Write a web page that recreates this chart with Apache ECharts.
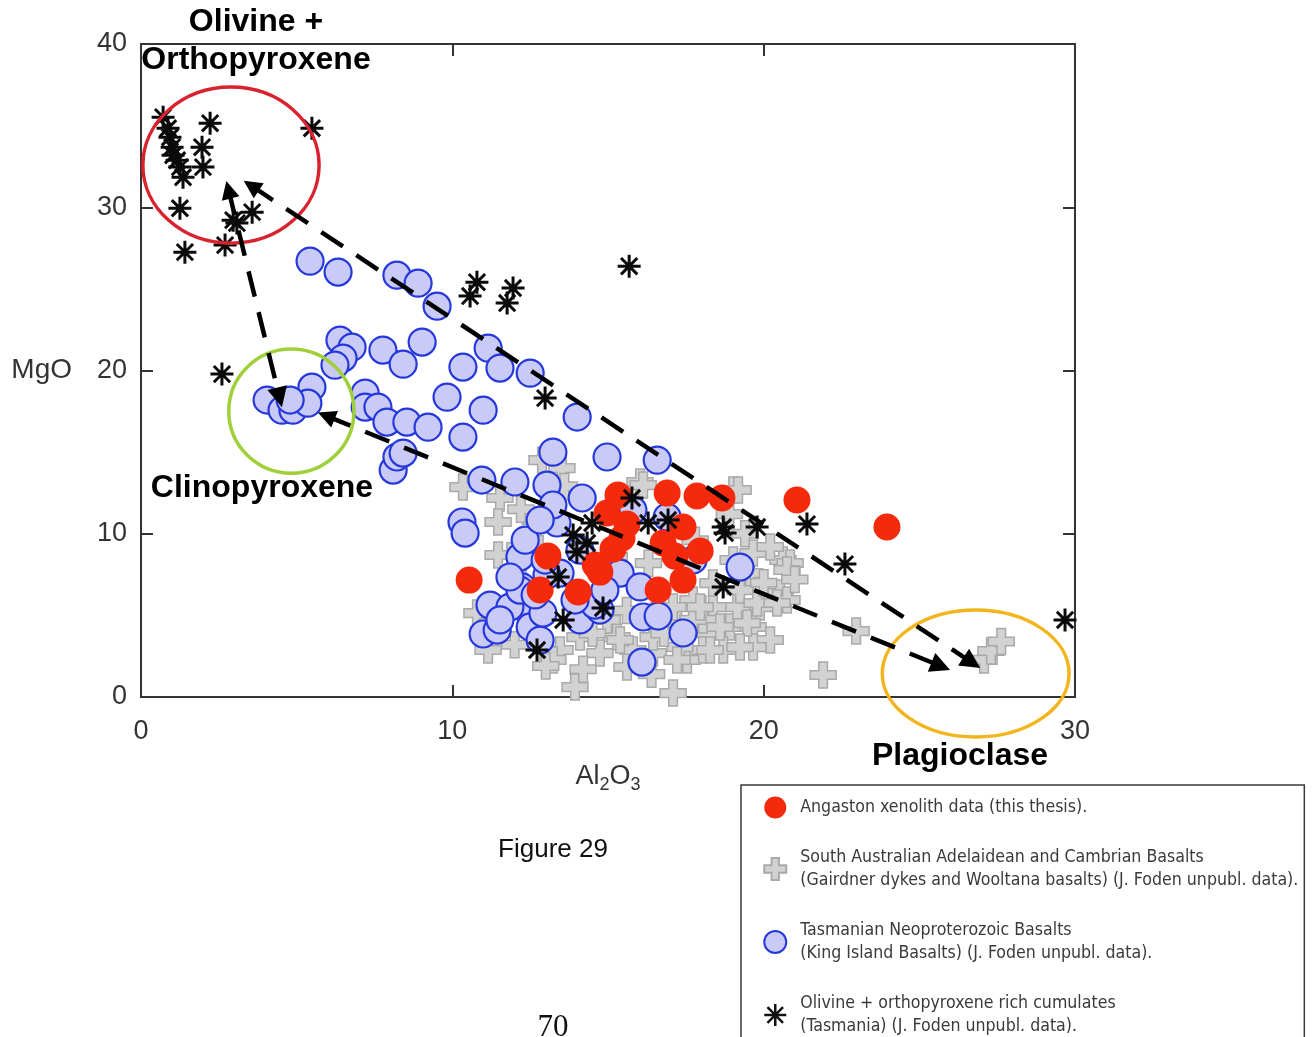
<!DOCTYPE html>
<html>
<head>
<meta charset="utf-8">
<script src="https://cdn.jsdelivr.net/npm/echarts/dist/echarts.min.js"></script>
<style>
  html, body { margin: 0; padding: 0; background: #fff; }
  #chart { width: 1313px; height: 1037px; }
</style>
</head>
<body>
<div id="chart"></div>
<script>
// Al2O3 (wt%) vs MgO (wt%) for each sample group
const angaston = [
  [10.54, 7.16], [12.82, 6.55], [13.07, 8.63], [14.04, 6.43], [14.74, 7.65], [14.59, 8.08],
  [14.97, 11.27], [15.32, 12.37], [15.45, 9.74], [15.61, 10.59], [15.16, 9.06], [16.90, 12.49],
  [17.86, 12.31], [18.66, 12.19], [21.07, 12.07], [23.96, 10.41], [17.41, 10.41], [16.77, 9.43],
  [17.96, 8.94], [17.41, 7.16], [16.61, 6.55], [17.15, 8.63]
];

const southAustralian = [
  [12.88, 14.51], [13.52, 14.02], [10.34, 12.86], [11.53, 12.19], [11.47, 10.72], [11.47, 8.70],
  [12.66, 10.84], [12.50, 9.61], [10.79, 5.14], [11.15, 2.88], [16.03, 13.17], [16.13, 12.98],
  [19.02, 12.68], [19.18, 12.68], [20.62, 8.39], [20.85, 8.21], [21.91, 1.35], [13.94, 0.61],
  [17.09, 0.24], [15.29, 3.67], [14.97, 4.72], [15.61, 1.84], [16.45, 2.69], [17.54, 2.27],
  [18.28, 3.92], [18.92, 4.29], [19.66, 4.29], [20.21, 3.49], [19.88, 5.51], [20.53, 6.37],
  [20.75, 7.78], [19.15, 5.51], [18.37, 5.51], [18.37, 6.98], [17.73, 5.94], [18.05, 4.72],
  [17.22, 4.53], [17.09, 5.51], [16.45, 3.67], [15.80, 2.88], [14.74, 2.69], [14.10, 3.67],
  [13.46, 2.88], [13.23, 2.27], [19.56, 7.59], [19.66, 8.82], [20.21, 9.19], [19.02, 8.39],
  [19.24, 6.55], [19.66, 3.06], [18.70, 2.88], [18.05, 2.88], [17.31, 3.06], [12.17, 9.19],
  [11.95, 7.78], [22.97, 4.04], [27.08, 2.27], [27.30, 2.82], [27.63, 3.40], [20.75, 5.94],
  [15.39, 3.49], [17.73, 4.72], [18.60, 4.29], [19.47, 4.53], [19.79, 5.76], [19.24, 3.06],
  [18.28, 2.88], [17.22, 2.27], [17.96, 5.51], [20.43, 5.76], [16.50, 5.00], [16.80, 3.90],
  [15.60, 5.30], [14.50, 3.90], [13.00, 1.90], [11.00, 4.00], [12.00, 3.20], [16.40, 1.40],
  [14.20, 1.70], [20.00, 7.00], [21.00, 7.20], [19.40, 10.00], [17.80, 9.60], [16.30, 8.20],
  [15.20, 8.60], [18.90, 11.20], [13.60, 12.90], [12.20, 11.50]
];

const tasmanianBasalts = [
  [5.43, 26.70], [6.33, 26.03], [8.22, 25.84], [8.90, 25.35], [9.51, 23.94],
  [6.39, 21.86], [6.78, 21.43], [6.49, 20.76], [6.23, 20.33], [7.77, 21.25], [8.42, 20.39], [9.03, 21.74],
  [10.34, 20.21], [11.15, 21.37], [11.53, 20.15], [12.50, 19.84], [9.83, 18.37], [10.99, 17.57],
  [10.34, 15.92], [14.01, 17.15],
  [4.05, 18.19], [4.53, 17.57], [4.88, 17.57], [5.49, 18.98], [5.36, 18.00], [4.79, 18.19],
  [7.20, 18.62], [7.20, 17.76], [7.61, 17.76], [7.90, 16.84], [8.54, 16.84], [9.22, 16.53],
  [8.10, 13.90], [8.22, 14.70], [8.42, 14.94],
  [13.23, 15.00], [14.97, 14.70], [16.58, 14.51], [10.95, 13.29], [12.01, 13.17], [13.04, 12.98],
  [14.17, 12.19], [10.31, 10.72], [10.41, 10.04], [13.36, 10.66], [13.23, 11.76], [12.17, 8.57],
  [12.24, 6.74], [11.21, 5.63], [10.99, 3.86], [11.44, 4.10], [12.43, 5.27], [12.50, 4.29],
  [12.82, 3.49], [12.91, 5.14], [14.10, 4.72], [14.74, 5.33], [15.39, 7.59], [16.03, 6.74],
  [16.13, 4.90], [16.61, 4.96], [17.41, 3.92], [16.09, 2.14], [19.24, 7.96], [16.90, 11.02],
  [15.80, 11.45], [17.73, 8.39], [13.46, 7.59], [11.85, 5.51], [12.17, 6.55], [12.66, 6.25],
  [13.04, 7.47], [14.58, 5.63], [13.94, 5.94], [14.90, 6.55], [12.98, 8.39], [12.34, 9.61],
  [14.10, 9.00], [12.82, 10.84], [11.53, 4.72], [11.85, 7.35]
];

const cumulates = [
  [0.71, 35.52], [0.87, 34.84], [0.93, 34.29], [1.00, 33.68], [1.03, 33.19], [1.16, 32.88],
  [1.25, 32.46], [1.35, 31.84], [2.22, 35.15], [1.96, 33.68], [1.99, 32.46], [1.25, 29.94],
  [1.41, 27.25], [5.49, 34.84], [2.96, 29.21], [3.08, 29.03], [3.57, 29.70], [2.70, 27.68],
  [2.60, 19.78],
  [10.79, 25.41], [10.57, 24.56], [11.95, 25.05], [11.76, 24.13], [15.68, 26.39], [12.98, 18.31],
  [15.77, 12.19], [16.29, 10.66], [16.93, 10.84], [13.88, 9.92], [14.49, 10.66], [14.33, 9.43],
  [14.00, 8.88], [13.40, 7.35], [13.56, 4.72], [12.72, 2.88], [14.84, 5.45],
  [18.76, 10.04], [18.70, 10.41], [19.79, 10.41], [21.39, 10.59], [22.61, 8.14], [18.70, 6.74],
  [29.68, 4.72]
];

// Mineral end-member fields: [centre Al2O3, centre MgO, radius Al2O3, radius MgO]
const mineralFields = [
  [2.89, 32.58, 2.83, 4.78],   // olivine + orthopyroxene
  [4.83, 17.51, 2.01, 3.80],   // clinopyroxene
  [26.81, 1.44, 3.00, 3.89]    // plagioclase
];
const fieldColors = ['#d8232f', '#9fd03a', '#f2b51e'];

// Fractionation vectors between the mineral fields
const vectors = [
  [[3.54, 31.32], [26.69, 2.11]],
  [[5.95, 17.22], [25.69, 1.89]],
  [[2.81, 31.07], [4.45, 18.35]]
];

const xTicks = { min: 0, max: 30, interval: 10 };
const yTicks = { min: 0, max: 40, interval: 10 };

const seriesNames = [
  'Angaston xenolith data (this thesis).',
  'South Australian Adelaidean and Cambrian Basalts\n(Gairdner dykes and Wooltana basalts) (J. Foden unpubl. data).',
  'Tasmanian Neoproterozoic Basalts\n(King Island Basalts) (J. Foden unpubl. data).',
  'Olivine + orthopyroxene rich cumulates\n(Tasmania) (J. Foden unpubl. data).'
];

const crossPath = 'path://M1,0H2V1H3V2H2V3H1V2H0V1H1Z';
const starPath = 'path://M12,0L12,24M0,12L24,12M3.5,3.5L20.5,20.5M20.5,3.5L3.5,20.5';

const axisColor = '#333';
const sansFamily = '"Liberation Sans", Arial, sans-serif';
const tickFont = { fontFamily: sansFamily, fontSize: 27, color: '#333' };
const legendFont = "'DejaVu Sans Condensed', 'Liberation Sans', sans-serif";
const boldLabel = 'bold 32px ' + sansFamily;

const chart = echarts.init(document.getElementById('chart'), null, { renderer: 'canvas' });

const baseAxis = {
  axisLine: { show: true, onZero: false, lineStyle: { color: axisColor, width: 2 } },
  axisTick: { show: true, inside: true, length: 12, lineStyle: { color: axisColor, width: 2 } },
  splitLine: { show: false }
};

const option = {
  backgroundColor: '#fff',
  animation: false,
  grid: { left: 141, top: 44, width: 934, height: 653 },
  xAxis: [
    Object.assign({}, baseAxis, {
      type: 'value', position: 'bottom', min: xTicks.min, max: xTicks.max, interval: xTicks.interval,
      axisLabel: Object.assign({ margin: 21 }, tickFont),
      name: '{a|Al}{s|2}{a|O}{s|3}',
      nameLocation: 'middle', nameGap: 62,
      nameTextStyle: {
        rich: {
          a: { fontFamily: sansFamily, fontSize: 27, color: '#333' },
          s: { fontFamily: sansFamily, fontSize: 18, color: '#333', padding: [17, 0, 0, 0] }
        }
      }
    }),
    Object.assign({}, baseAxis, {
      type: 'value', position: 'top', min: xTicks.min, max: xTicks.max, interval: xTicks.interval,
      axisLabel: { show: false }
    })
  ],
  yAxis: [
    Object.assign({}, baseAxis, {
      type: 'value', position: 'left', min: yTicks.min, max: yTicks.max, interval: yTicks.interval,
      axisLabel: Object.assign({ margin: 14 }, tickFont),
      name: 'MgO', nameLocation: 'middle', nameRotate: 0, nameGap: 69,
      nameTextStyle: { fontFamily: sansFamily, fontSize: 28, color: '#333' }
    }),
    Object.assign({}, baseAxis, {
      type: 'value', position: 'right', min: yTicks.min, max: yTicks.max, interval: yTicks.interval,
      axisLabel: { show: false }
    })
  ],
  legend: {
    orient: 'vertical', left: 741, top: 785, height: 340,
    selectedMode: false,
    borderColor: '#3a3a3a', borderWidth: 1.5,
    padding: [11, 6, 16, 22],
    itemGap: 27, itemWidth: 24, itemHeight: 22,
    textStyle: { fontFamily: legendFont, fontSize: 17.6, lineHeight: 23, color: '#3a3a3a', padding: [0, 0, 0, 8] },
    data: [
      { name: seriesNames[0], icon: 'circle' },
      { name: seriesNames[1], icon: crossPath },
      { name: seriesNames[2], icon: 'circle' },
      { name: seriesNames[3], icon: starPath, itemStyle: { color: '#111', borderColor: '#111', borderWidth: 2.5 } }
    ]
  },
  series: [
    {
      name: seriesNames[1], type: 'scatter', z: 2, data: southAustralian,
      symbol: crossPath, symbolSize: 26,
      itemStyle: { color: '#d2d2d2', borderColor: '#a9a9a9', borderWidth: 1.5, opacity: 1 }
    },
    {
      name: seriesNames[2], type: 'scatter', z: 3, data: tasmanianBasalts,
      symbol: 'circle', symbolSize: 27,
      itemStyle: { color: '#c9cbf6', borderColor: '#2438dc', borderWidth: 2.2, opacity: 1 }
    },
    {
      name: seriesNames[0], type: 'scatter', z: 4, data: angaston,
      symbol: 'circle', symbolSize: 27,
      itemStyle: { color: '#f52a0c', opacity: 1 }
    },
    {
      name: seriesNames[3], type: 'scatter', z: 5, data: cumulates,
      symbol: starPath, symbolSize: 23,
      itemStyle: { color: '#0a0a0a', borderColor: '#0a0a0a', borderWidth: 3, opacity: 1 }
    },
    {
      name: 'fields', type: 'custom', z: 6, clip: false, silent: true,
      data: mineralFields,
      renderItem: function (params, api) {
        const c = api.coord([api.value(0), api.value(1)]);
        const s = api.size([api.value(2), api.value(3)]);
        return {
          type: 'ellipse',
          shape: { cx: c[0], cy: c[1], rx: s[0], ry: s[1] },
          style: { fill: 'none', stroke: fieldColors[params.dataIndex], lineWidth: 3.5 }
        };
      }
    },
    {
      name: 'vectors', type: 'lines', coordinateSystem: 'cartesian2d', z: 7, silent: true,
      symbol: ['triangle', 'triangle'], symbolSize: [18, 20],
      lineStyle: { color: '#000', width: 4.5, type: [26, 16], opacity: 1, curveness: 0 },
      data: vectors.map(function (v) { return { coords: v }; })
    }
  ],
  graphic: [
    { type: 'text', x: 256, y: 22, style: { text: 'Olivine +', font: boldLabel, fill: '#000', align: 'center', verticalAlign: 'middle' } },
    { type: 'text', x: 256, y: 60, style: { text: 'Orthopyroxene', font: boldLabel, fill: '#000', align: 'center', verticalAlign: 'middle' } },
    { type: 'text', x: 262, y: 488, style: { text: 'Clinopyroxene', font: boldLabel, fill: '#000', align: 'center', verticalAlign: 'middle' } },
    { type: 'text', x: 960, y: 756, style: { text: 'Plagioclase', font: boldLabel, fill: '#000', align: 'center', verticalAlign: 'middle' } },
    { type: 'text', x: 553, y: 850, style: { text: 'Figure 29', font: '26px ' + sansFamily, fill: '#111', align: 'center', verticalAlign: 'middle' } },
    { type: 'text', x: 553, y: 1028, style: { text: '70', font: '31px "Liberation Serif", "Times New Roman", serif', fill: '#111', align: 'center', verticalAlign: 'middle' } }
  ]
};

chart.setOption(option);
</script>
</body>
</html>
